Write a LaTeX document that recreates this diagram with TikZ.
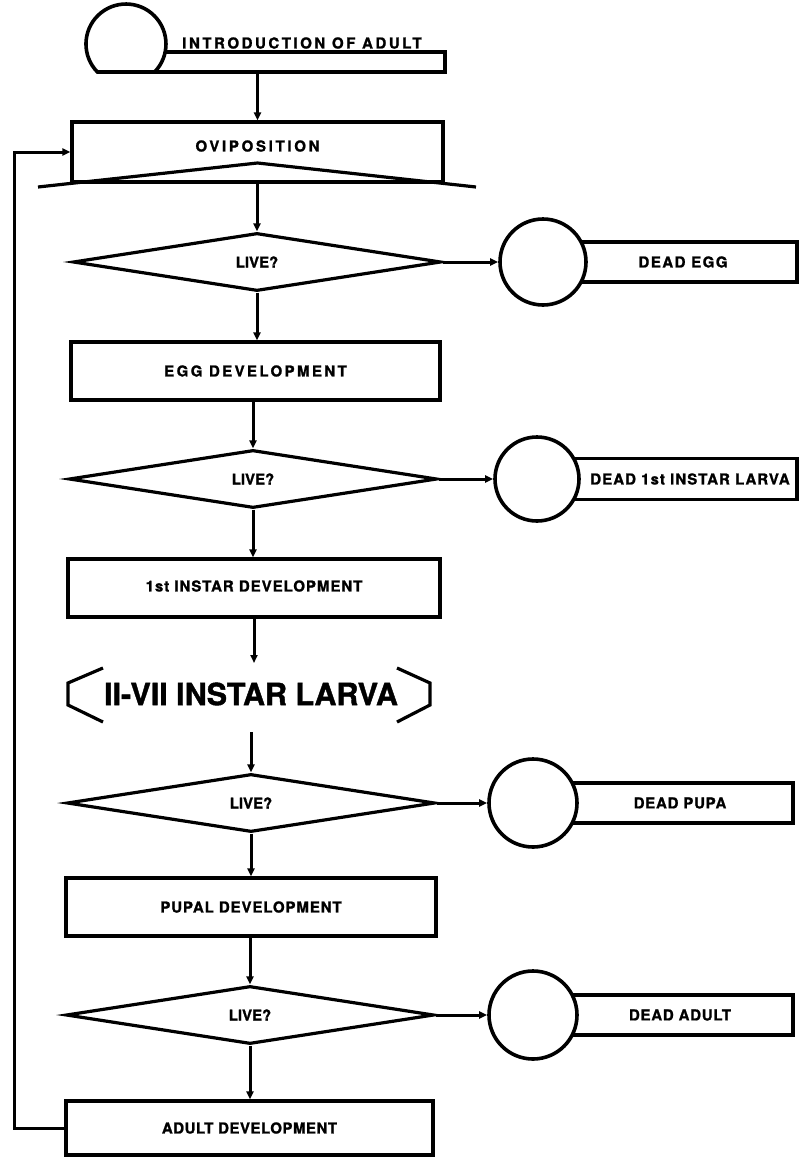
\documentclass[tikz,border=0pt]{standalone}
\usepackage{fontspec}
\setmainfont{TeX Gyre Heros}[BoldFeatures={FakeBold=1.3}]
\usetikzlibrary{shapes.geometric,arrows.meta,calc}
\begin{document}
\begin{tikzpicture}[x=1pt,y=-1pt,line width=3.2pt,
  box/.style={draw,rectangle,inner sep=0pt,fill=white},
  dec/.style={draw,diamond,inner sep=0pt,minimum width=368pt,minimum height=58pt,font=\bfseries\fontsize{15}{15}\selectfont},
  term/.style={draw,circle,inner sep=0pt,fill=white,minimum size=86pt,line width=3.6pt},
  lbl/.style={inner sep=0pt,font=\bfseries\fontsize{15}{15}\selectfont},
  arr/.style={-{Triangle[length=8pt,width=7pt]},line width=3pt}]
\useasboundingbox (0,0) rectangle (800,1159);

% introduction of adult
\node[box,minimum width=305pt,minimum height=20pt] (bar) at (292.5,62) {};
\draw[fill=white,line width=3.6pt] (97.4,72) arc[start angle=135.6,end angle=404.4,radius=40] -- cycle;
\node[lbl] (introtxt) at (302,43) {\addfontfeature{LetterSpace=17}INTRODUCTION OF ADULT};

% oviposition
\node[box,minimum width=371pt,minimum height=60pt] (ovi) at (257.5,152) {};
\node[lbl] (ovitxt) at (257.5,146) {\addfontfeature{LetterSpace=18}OVIPOSITION};
\coordinate (apex) at (257.5,163);
\draw (38,187) -- (apex) -- (476,187);

% decision 1
\node[dec] (d1) at (257,262) {LIVE?};
\node[box,minimum width=237pt,minimum height=40pt] (t1) at (678.5,262) {};
\node[term] (c1) at (543,262) {};
\node[lbl] (t1l) at (683,262) {\addfontfeature{LetterSpace=10}DEAD EGG};

% egg development
\node[box,minimum width=369pt,minimum height=58pt] (egg) at (255.5,371) {};
\node[lbl] (eggl) at (255.5,371) {\addfontfeature{LetterSpace=16}EGG DEVELOPMENT};

% decision 2
\node[dec] (d2) at (253,479) {LIVE?};
\node[box,minimum width=237pt,minimum height=41pt] (t2) at (678.5,479) {};
\node[term,minimum size=84pt] (c2) at (537,479) {};
\node[lbl] (t2l) at (690,479) {\addfontfeature{LetterSpace=7}DEAD 1st INSTAR LARVA};

% 1st instar development
\node[box,minimum width=372pt,minimum height=58pt] (inst) at (254,588) {};
\node[lbl] (instl) at (254,586) {\addfontfeature{LetterSpace=6.5}1st INSTAR DEVELOPMENT};

% II-VII instar larva
\node[inner sep=0pt,font=\bfseries\fontsize{30.5}{30.5}\selectfont] (larva) at (251,694) {II-VII INSTAR LARVA};
\draw (103,668) -- (68,683) -- (68,705) -- (103,722);
\draw (397,668) -- (430,683) -- (430,705) -- (397,722);
\coordinate (larvaTop) at (254,663);
\coordinate (larvaBot) at (251,732);

% decision 3
\node[dec] (d3) at (251,803) {LIVE?};
\node[box,minimum width=233pt,minimum height=40pt] (t3) at (676.5,803) {};
\node[term,minimum size=88pt] (c3) at (533,803) {};
\node[lbl] (t3l) at (680,803) {\addfontfeature{LetterSpace=5}DEAD PUPA};

% pupal development
\node[box,minimum width=370pt,minimum height=58pt] (pupa) at (251,907) {};
\node[lbl] (pupal) at (251,907) {\addfontfeature{LetterSpace=6}PUPAL DEVELOPMENT};

% decision 4
\node[dec] (d4) at (250,1015) {LIVE?};
\node[box,minimum width=233pt,minimum height=40pt] (t4) at (676.5,1015) {};
\node[term,minimum size=88pt] (c4) at (533,1015) {};
\node[lbl] (t4l) at (680,1015) {\addfontfeature{LetterSpace=5}DEAD ADULT};

% adult development
\node[box,minimum width=367pt,minimum height=54pt] (adult) at (249.5,1128) {};
\node[lbl] (adultl) at (249.5,1128) {\addfontfeature{LetterSpace=3.5}ADULT DEVELOPMENT};

% connectors
\draw[arr] (bar.south -| ovi.north) -- (ovi.north);
\draw[arr] (ovi.south -| d1.north) -- (d1.north);
\draw[arr] (d1.east) -- (c1.west);
\draw[arr] (d1.south) -- (d1.south |- egg.north);
\draw[arr] (egg.south -| d2.north) -- (d2.north);
\draw[arr] (d2.east) -- (c2.west);
\draw[arr] (d2.south) -- (d2.south |- inst.north);
\draw[arr] (inst.south) -- (larvaTop);
\draw[arr] (larvaBot) -- (d3.north);
\draw[arr] (d3.east) -- (c3.west);
\draw[arr] (d3.south) -- (pupa.north);
\draw[arr] (pupa.south -| d4.north) -- (d4.north);
\draw[arr] (d4.east) -- (c4.west);
\draw[arr] (d4.south) -- (d4.south |- adult.north);
\draw[arr] (adult.west) -- (14,1128) |- (ovi.west);
\end{tikzpicture}
\end{document}
